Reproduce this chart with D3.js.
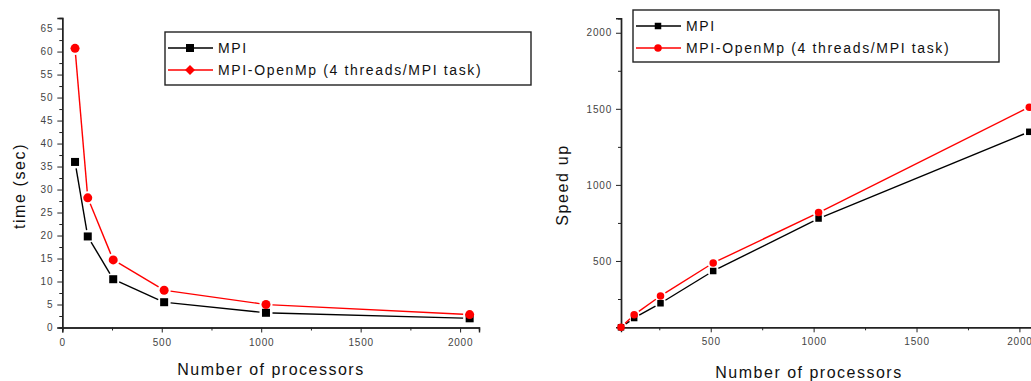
<!DOCTYPE html>
<html>
<head>
<meta charset="utf-8">
<script src="https://cdn.jsdelivr.net/npm/d3@7"></script>
<style>
  body { margin: 0; background: #fff; }
  text { font-family: "Liberation Sans", Arial, sans-serif; }
</style>
</head>
<body>
<div id="chart"></div>
<script>
const processors = [64, 128, 256, 512, 1024, 2048];
const timeMPI = [36.0, 19.8, 10.5, 5.5, 3.2, 2.0];
const timeHybrid = [60.7, 28.2, 14.7, 8.1, 5.0, 2.8];
const speedMPI = [64, 125, 222, 434, 779, 1349];
const speedHybrid = [64, 147, 270, 487, 818, 1511];
const seriesNames = ['MPI', 'MPI-OpenMp (4 threads/MPI task)'];

const timeTicks = d3.range(0, 66, 5);
const timeMinor = d3.range(2.5, 66, 5);
const procTicksLeft = [0, 500, 1000, 1500, 2000];
const procMinorLeft = [250, 750, 1250, 1750];
const speedTicks = [500, 1000, 1500, 2000];
const speedMinor = [250, 750, 1250, 1750];
const procTicksRight = [500, 1000, 1500, 2000];
const procMinorRight = [250, 750, 1250, 1750];

const width = 1031, height = 381;
const svg = d3.select('#chart').append('svg')
  .attr('width', width).attr('height', height);

const axisColor = '#222';
const labelColor = '#444';

function drawPanel(opt) {
  const g = svg.append('g');
  const { x, y } = opt;

  // minor ticks
  const xMinor = d3.axisBottom(x).tickValues(opt.xMinor).tickSize(3).tickFormat('');
  const yMinor = d3.axisLeft(y).tickValues(opt.yMinor).tickSize(3).tickFormat('');
  g.append('g').attr('transform', `translate(0,${y.range()[0]})`).call(xMinor);
  g.append('g').attr('transform', `translate(${x.range()[0]},0)`).call(yMinor);

  // Eje X
  g.append('g')
    .attr('transform', `translate(0,${y.range()[0]})`)
    .call(d3.axisBottom(x).tickValues(opt.xTicks).tickSize(5).tickPadding(6).tickFormat(d3.format('d')))
    .selectAll('text')
    .style('font-size', '10px')
    .style('letter-spacing', '0.8px')
    .style('fill', labelColor);

  // Eje Y
  g.append('g')
    .attr('transform', `translate(${x.range()[0]},0)`)
    .call(d3.axisLeft(y).tickValues(opt.yTicks).tickSize(5).tickPadding(4).tickFormat(d3.format('d')))
    .selectAll('text')
    .style('font-size', '10px')
    .style('letter-spacing', '0.8px')
    .style('fill', labelColor);

  g.selectAll('.domain').attr('stroke', axisColor).attr('stroke-width', 1.4);
  g.selectAll('.tick line').attr('stroke', axisColor);

  // series
  opt.series.forEach(s => {
    const pts = processors.map((p, i) => [x(p), y(s.values[i])]);
    const gap = s.size / 2 + 2.5;
    for (let i = 0; i < pts.length - 1; i++) {
      const [x0, y0] = pts[i], [x1, y1] = pts[i + 1];
      const len = Math.hypot(x1 - x0, y1 - y0);
      if (len < gap * 2) continue;
      const ux = (x1 - x0) / len, uy = (y1 - y0) / len;
      g.append('line')
        .attr('x1', x0 + ux * gap).attr('y1', y0 + uy * gap)
        .attr('x2', x1 - ux * gap).attr('y2', y1 - uy * gap)
        .attr('stroke', s.color).attr('stroke-width', 1.4);
    }
    pts.forEach(([px, py]) => drawMarker(g, s, px, py));
  });

  // legend
  const lg = svg.append('g');
  const L = opt.legend;
  lg.append('rect')
    .attr('x', L.x).attr('y', L.y).attr('width', L.w).attr('height', L.h)
    .attr('fill', 'none').attr('stroke', axisColor).attr('stroke-width', 1.4);
  opt.series.forEach((s, i) => {
    const yy = L.y + L.rowY[i];
    lg.append('line')
      .attr('x1', L.x + 3).attr('x2', L.x + 48).attr('y1', yy).attr('y2', yy)
      .attr('stroke', s.color).attr('stroke-width', 1.4);
    drawMarker(lg, Object.assign({}, s, { shape: s.legendShape || s.shape }), L.x + 25, yy);
    lg.append('text')
      .attr('x', L.x + 53).attr('y', yy + 5)
      .style('font-size', '14px')
      .style('letter-spacing', '1.65px')
      .style('fill', '#111')
      .text(seriesNames[i]);
  });

  // axis titles
  svg.append('text')
    .attr('x', opt.xTitle[0]).attr('y', opt.xTitle[1])
    .attr('text-anchor', 'middle')
    .style('font-size', '16px').style('letter-spacing', '1.5px').style('fill', '#111')
    .text('Number of processors');
  svg.append('text')
    .attr('transform', `translate(${opt.yTitle[0]},${opt.yTitle[1]}) rotate(-90)`)
    .attr('text-anchor', 'middle')
    .style('font-size', '16px').style('letter-spacing', '1.6px').style('fill', '#111')
    .text(opt.yLabel);
}

function drawMarker(g, s, px, py) {
  if (s.shape === 'square') {
    g.append('rect')
      .attr('x', px - s.size / 2).attr('y', py - s.size / 2)
      .attr('width', s.size).attr('height', s.size)
      .attr('fill', s.color);
  } else if (s.shape === 'diamond') {
    const r = s.size / 2 + 1;
    g.append('path')
      .attr('d', `M${px},${py - r}L${px + r},${py}L${px},${py + r}L${px - r},${py}Z`)
      .attr('fill', s.color);
  } else {
    g.append('circle').attr('cx', px).attr('cy', py).attr('r', s.size / 2 + 0.5).attr('fill', s.color);
  }
}

// left panel: time
drawPanel({
  x: d3.scaleLinear().domain([0, 2095]).range([62.3, 479]),
  y: d3.scaleLinear().domain([0, 67.3]).range([327.5, 18]),
  xTicks: procTicksLeft, xMinor: procMinorLeft,
  yTicks: timeTicks, yMinor: timeMinor,
  series: [
    { values: timeMPI, color: '#000', shape: 'square', size: 8 },
    { values: timeHybrid, color: '#ff0000', shape: 'circle', legendShape: 'diamond', size: 8 }
  ],
  legend: { x: 165, y: 32, w: 366, h: 53, rowY: [16, 38] },
  xTitle: [271, 375], yTitle: [25, 186], yLabel: 'time (sec)'
});

// right panel: speed up
drawPanel({
  x: d3.scaleLinear().domain([64, 2100]).range([621, 1040]),
  y: d3.scaleLinear().domain([64, 2095]).range([327.3, 18.3]),
  xTicks: procTicksRight, xMinor: procMinorRight,
  yTicks: speedTicks, yMinor: speedMinor,
  series: [
    { values: speedMPI, color: '#000', shape: 'square', size: 6.5 },
    { values: speedHybrid, color: '#ff0000', shape: 'circle', size: 6.5 }
  ],
  legend: { x: 633, y: 10, w: 366, h: 52, rowY: [16, 38] },
  xTitle: [809, 378], yTitle: [568, 185], yLabel: 'Speed up'
});
</script>
</body>
</html>
